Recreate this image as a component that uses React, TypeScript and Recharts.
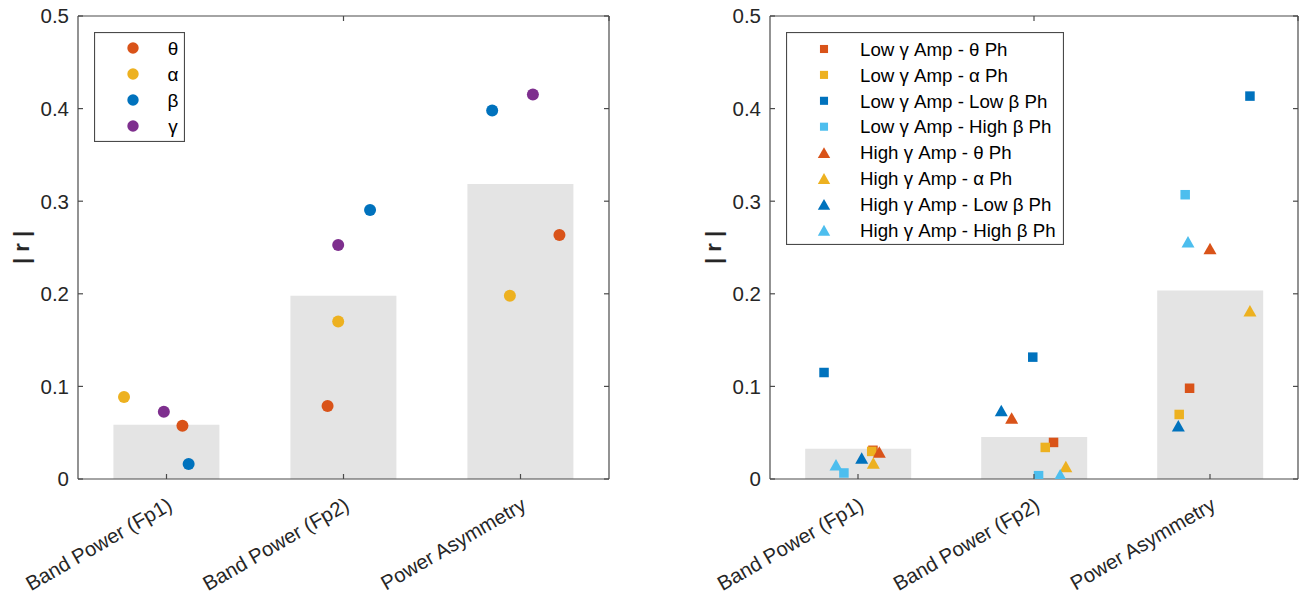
import React from 'react';
import { ComposedChart, Bar, Scatter, XAxis, YAxis, Legend, Label } from 'recharts';

const categories = ['Band Power (Fp1)', 'Band Power (Fp2)', 'Power Asymmetry'];
const yTicks = [0, 0.1, 0.2, 0.3, 0.4, 0.5];
const catTicks = [1, 2, 3];

// Left panel: band power |r|
const bandMean = [0.0586, 0.198, 0.3186];
const thetaVals = [0.0575, 0.0788, 0.2635];
const thetaJitter = [0.09, -0.09, 0.22];
const alphaVals = [0.0885, 0.17, 0.198];
const alphaJitter = [-0.24, -0.03, -0.06];
const betaVals = [0.0162, 0.2905, 0.398];
const betaJitter = [0.125, 0.15, -0.16];
const gammaVals = [0.0726, 0.2528, 0.4153];
const gammaJitter = [-0.015, -0.03, 0.07];

// Right panel: PAC |r|
const pacMean = [0.0327, 0.0453, 0.2035];
const lowThetaVals = [0.031, 0.0395, 0.098];
const lowThetaJitter = [0.085, 0.111, -0.116];
const lowAlphaVals = [0.0298, 0.0341, 0.0697];
const lowAlphaJitter = [0.078, 0.064, -0.175];
const lowLowBetaVals = [0.115, 0.1316, 0.4135];
const lowLowBetaJitter = [-0.193, -0.007, 0.227];
const lowHighBetaVals = [0.0065, 0.0036, 0.307];
const lowHighBetaJitter = [-0.08, 0.026, -0.141];
const highThetaVals = [0.0291, 0.066, 0.249];
const highThetaJitter = [0.121, -0.127, 0.0];
const highAlphaVals = [0.0173, 0.0136, 0.1816];
const highAlphaJitter = [0.087, 0.181, 0.227];
const highLowBetaVals = [0.0227, 0.074, 0.0575];
const highLowBetaJitter = [0.021, -0.186, -0.18];
const highHighBetaVals = [0.0154, 0.0046, 0.2563];
const highHighBetaJitter = [-0.125, 0.149, -0.125];

const C_THETA = '#D95319';
const C_ALPHA = '#EDB120';
const C_BETA = '#0072BD';
const C_GAMMA = '#7E2F8E';
const C_HBETA = '#4DBEEE';
const BAR = '#E4E4E4';
const AXIS = '#4a4a4a';
const TXT = '#262626';
const FONT = '"Liberation Sans", Arial, Helvetica, sans-serif';

type Kind = 'circle' | 'square' | 'triangle';

const toPoints = (vals: number[], jit: number[]) =>
  vals.map((v, i) => ({ x: i + 1 + jit[i], y: v }));

const barData = (vals: number[]) => categories.map((c, i) => ({ name: c, y: vals[i] }));

const leftSeries = [
  { name: 'θ', color: C_THETA, kind: 'circle' as Kind, vals: thetaVals, jit: thetaJitter },
  { name: 'α', color: C_ALPHA, kind: 'circle' as Kind, vals: alphaVals, jit: alphaJitter },
  { name: 'β', color: C_BETA, kind: 'circle' as Kind, vals: betaVals, jit: betaJitter },
  { name: 'γ', color: C_GAMMA, kind: 'circle' as Kind, vals: gammaVals, jit: gammaJitter },
];

const rightSeries = [
  { name: 'Low γ Amp - θ Ph', color: C_THETA, kind: 'square' as Kind, vals: lowThetaVals, jit: lowThetaJitter },
  { name: 'Low γ Amp - α Ph', color: C_ALPHA, kind: 'square' as Kind, vals: lowAlphaVals, jit: lowAlphaJitter },
  { name: 'Low γ Amp - Low β Ph', color: C_BETA, kind: 'square' as Kind, vals: lowLowBetaVals, jit: lowLowBetaJitter },
  { name: 'Low γ Amp - High β Ph', color: C_HBETA, kind: 'square' as Kind, vals: lowHighBetaVals, jit: lowHighBetaJitter },
  { name: 'High γ Amp - θ Ph', color: C_THETA, kind: 'triangle' as Kind, vals: highThetaVals, jit: highThetaJitter },
  { name: 'High γ Amp - α Ph', color: C_ALPHA, kind: 'triangle' as Kind, vals: highAlphaVals, jit: highAlphaJitter },
  { name: 'High γ Amp - Low β Ph', color: C_BETA, kind: 'triangle' as Kind, vals: highLowBetaVals, jit: highLowBetaJitter },
  { name: 'High γ Amp - High β Ph', color: C_HBETA, kind: 'triangle' as Kind, vals: highHighBetaVals, jit: highHighBetaJitter },
];

function Marker({ kind, cx, cy, fill, scale = 1 }: { kind: Kind; cx: number; cy: number; fill: string; scale?: number }) {
  if (kind === 'circle') return <circle cx={cx} cy={cy} r={6 * scale} fill={fill} />;
  if (kind === 'square') {
    const s = 9.5 * scale;
    return <rect x={cx - s / 2} y={cy - s / 2} width={s} height={s} fill={fill} />;
  }
  const w = 13 * scale;
  const h = 11.5 * scale;
  return (
    <polygon
      points={`${cx},${cy - h / 2} ${cx + w / 2},${cy + h / 2} ${cx - w / 2},${cy + h / 2}`}
      fill={fill}
    />
  );
}

const BottomTick = (props: any) => {
  const { x, y, payload } = props;
  const label = categories[Math.round(payload.value) - 1];
  const tx = x + 7;
  const ty = y + 30;
  return (
    <g>
      <line x1={x} y1={y} x2={x} y2={y - 5} stroke={AXIS} strokeWidth={1.2} />
      <text
        x={tx}
        y={ty}
        transform={`rotate(-30, ${tx}, ${ty})`}
        textAnchor="end"
        fontSize={20.3}
        fontFamily={FONT}
        fill={TXT}
      >
        {label}
      </text>
    </g>
  );
};

const TopTick = (props: any) => {
  const { x, y } = props;
  return <line x1={x} y1={y} x2={x} y2={y + 5} stroke={AXIS} strokeWidth={1.2} />;
};

const LeftTick = (props: any) => {
  const { x, y, payload } = props;
  const v = payload.value as number;
  const label = v === 0 ? '0' : v.toFixed(1);
  return (
    <g>
      <line x1={x} y1={y} x2={x + 5} y2={y} stroke={AXIS} strokeWidth={1.2} />
      <text x={x - 9} y={y} dy="0.36em" textAnchor="end" fontSize={20.5} fontFamily={FONT} fill={TXT}>
        {label}
      </text>
    </g>
  );
};

const RightTick = (props: any) => {
  const { x, y } = props;
  return <line x1={x} y1={y} x2={x - 5} y2={y} stroke={AXIS} strokeWidth={1.2} />;
};

const yLabel = (lx: number) => (props: any) => {
  const vb = props.viewBox || {};
  const cy = (vb.y || 0) + (vb.height || 0) / 2;
  return (
    <text
      x={lx}
      y={cy}
      transform={`rotate(-90, ${lx}, ${cy})`}
      textAnchor="middle"
      fontSize={22}
      fontWeight="bold"
      fontFamily={FONT}
      fill={TXT}
    >
      | r |
    </text>
  );
};

function LegendBox({ series, width, height, markerX, textX, textAnchor, rowTop, rowGap, fontSize }: any) {
  return (
    <svg width={width} height={height} style={{ display: 'block' }}>
      <rect x={0.5} y={0.5} width={width - 1} height={height - 1} fill="#fff" stroke={AXIS} strokeWidth={1.2} />
      {series.map((s: any, i: number) => {
        const cy = rowTop + i * rowGap;
        return (
          <g key={s.name}>
            <Marker kind={s.kind} cx={markerX} cy={cy} fill={s.color} scale={s.kind === 'square' ? 0.85 : 0.95} />
            <text x={textX} y={cy} dy="0.36em" textAnchor={textAnchor} fontSize={fontSize} fontFamily={FONT} fill="#000">
              {s.name}
            </text>
          </g>
        );
      })}
    </svg>
  );
}

function Panel({
  series,
  means,
  marginLeft,
  marginRight,
  labelX,
  legend,
}: {
  series: any[];
  means: number[];
  marginLeft: number;
  marginRight: number;
  labelX: number;
  legend: React.ReactNode;
}) {
  return (
    <ComposedChart
      width={652}
      height={597}
      data={barData(means)}
      margin={{ top: 15, right: marginRight - 1, bottom: 117, left: marginLeft - 1 }}
      barCategoryGap="20%"
    >
      <XAxis
        xAxisId="num"
        dataKey="x"
        type="number"
        domain={[0.5, 3.5]}
        ticks={catTicks}
        allowDataOverflow
        height={1}
        tickSize={0}
        tickMargin={0}
        tick={<BottomTick />}
        axisLine={{ stroke: AXIS, strokeWidth: 1.2 }}
        tickLine={false}
        interval={0}
      />
      <XAxis xAxisId="cat" dataKey="name" type="category" hide height={0} />
      <XAxis
        xAxisId="top"
        orientation="top"
        type="number"
        domain={[0.5, 3.5]}
        ticks={catTicks}
        allowDataOverflow
        height={1}
        tickSize={0}
        tickMargin={0}
        tick={<TopTick />}
        axisLine={{ stroke: AXIS, strokeWidth: 1.2 }}
        tickLine={false}
        interval={0}
      />
      <YAxis
        yAxisId="left"
        dataKey="y"
        type="number"
        domain={[0, 0.5]}
        ticks={yTicks}
        allowDataOverflow
        width={1}
        tickSize={0}
        tickMargin={0}
        tick={<LeftTick />}
        axisLine={{ stroke: AXIS, strokeWidth: 1.2 }}
        tickLine={false}
        interval={0}
      >
        <Label content={yLabel(labelX)} />
      </YAxis>
      <YAxis
        yAxisId="right"
        orientation="right"
        type="number"
        domain={[0, 0.5]}
        ticks={yTicks}
        allowDataOverflow
        width={1}
        tickSize={0}
        tickMargin={0}
        tick={<RightTick />}
        axisLine={{ stroke: AXIS, strokeWidth: 1.2 }}
        tickLine={false}
        interval={0}
      />
      <Bar xAxisId="cat" yAxisId="left" dataKey="y" fill={BAR} isAnimationActive={false} legendType="none" />
      {series.map((s) => (
        <Scatter
          key={s.name}
          name={s.name}
          xAxisId="num"
          yAxisId="left"
          data={toPoints(s.vals, s.jit)}
          fill={s.color}
          isAnimationActive={false}
          shape={(p: any) => <Marker kind={s.kind} cx={p.cx} cy={p.cy} fill={s.color} />}
        />
      ))}
      {legend}
    </ComposedChart>
  );
}

export default function App() {
  const leftLegend = (
    <Legend
      layout="vertical"
      align="center"
      verticalAlign="middle"
      wrapperStyle={{ position: 'absolute', left: 94, top: 32, width: 91, height: 110 }}
      content={() => (
        <LegendBox
          series={leftSeries}
          width={91}
          height={110}
          markerX={39}
          textX={79}
          textAnchor="middle"
          rowTop={16}
          rowGap={26}
          fontSize={19}
        />
      )}
    />
  );
  const rightLegend = (
    <Legend
      layout="vertical"
      align="center"
      verticalAlign="middle"
      wrapperStyle={{ position: 'absolute', left: 134, top: 32, width: 278, height: 213 }}
      content={() => (
        <LegendBox
          series={rightSeries}
          width={278}
          height={213}
          markerX={38}
          textX={74}
          textAnchor="start"
          rowTop={17}
          rowGap={25.9}
          fontSize={18.7}
        />
      )}
    />
  );
  return (
    <div style={{ position: 'absolute', left: 0, top: 0, width: 1304, height: 597, background: '#fff', overflow: 'hidden' }}>
      <div style={{ position: 'absolute', left: 0, top: 0 }}>
        <Panel series={leftSeries} means={bandMean} marginLeft={78} marginRight={43} labelX={28.5} legend={leftLegend} />
      </div>
      <div style={{ position: 'absolute', left: 652, top: 0 }}>
        <Panel series={rightSeries} means={pacMean} marginLeft={118} marginRight={6} labelX={68.5} legend={rightLegend} />
      </div>
    </div>
  );
}
